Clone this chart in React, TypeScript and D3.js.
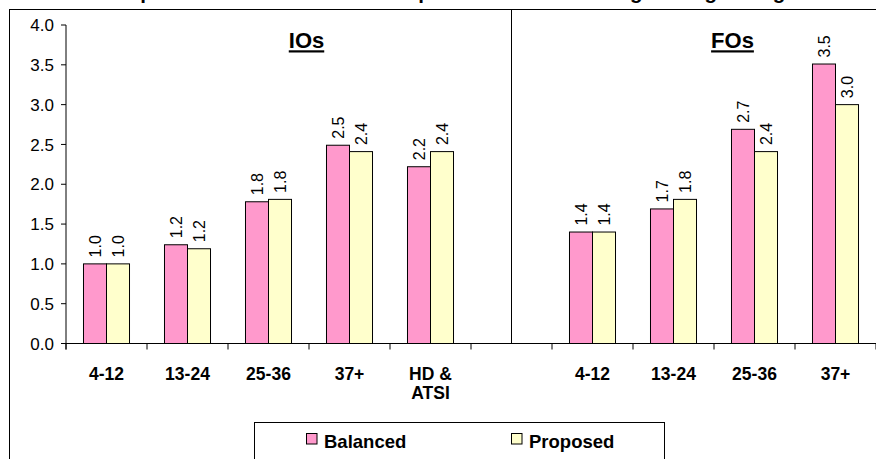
import React from "react";
import * as d3 from "d3";

const categories = ["4-12", "13-24", "25-36", "37+", "HD &\nATSI", "", "4-12", "13-24", "25-36", "37+"];
const balanced: (number | null)[] = [1.0, 1.24, 1.78, 2.49, 2.22, null, 1.4, 1.69, 2.69, 3.51];
const proposed: (number | null)[] = [1.0, 1.19, 1.81, 2.41, 2.41, null, 1.4, 1.81, 2.41, 3.0];
const seriesNames = ["Balanced", "Proposed"];
const seriesColors = ["#FF99CC", "#FFFFCC"];
const yTicks = [0, 0.5, 1.0, 1.5, 2.0, 2.5, 3.0, 3.5, 4.0];
const panelTitles = ["IOs", "FOs"];
const title = "Comparison of Balanced and Proposed Service Loading and Age Ranges";

const W = 876;
const H = 459;
const FONT = "'Liberation Sans', Arial, Helvetica, sans-serif";

export default function App() {
  const x0 = 66;
  const x1End = 876;
  const yBase = 343.5;
  const yTop = 25;
  const x = d3.scaleBand<number>().domain(d3.range(categories.length)).range([x0, x1End]).paddingInner(0).paddingOuter(0);
  const xs = d3.scaleBand<string>().domain(seriesNames).range([0, x.bandwidth()]).paddingInner(0).paddingOuter(0.76);
  const y = d3.scaleLinear().domain([0, 4]).range([yBase, yTop]);
  const series = [balanced, proposed];
  const dividerX = (x(5) as number) + x.bandwidth() / 2;
  const fmt = d3.format(".1f");

  return (
    <svg width={W} height={H} style={{ position: "absolute", left: 0, top: 0, background: "#fff" }} fontFamily={FONT}>
      <rect x={0} y={0} width={W} height={H} fill="#fff" />
      <text x={94.7} y={-1.5} fontSize={20.5} fontWeight="bold" fill="#000">{title}</text>
      {/* outer border */}
      <rect x={9.5} y={9.5} width={900} height={500} fill="none" stroke="#000" strokeWidth={1} />
      {/* divider */}
      <line x1={dividerX} x2={dividerX} y1={9.5} y2={yBase} stroke="#000" strokeWidth={1} />
      {/* y axis */}
      <line x1={x0} x2={x0} y1={yTop} y2={yBase + 6} stroke="#000" strokeWidth={1} />
      {yTicks.map((t) => (
        <g key={t}>
          <line x1={x0 - 5} x2={x0} y1={y(t)} y2={y(t)} stroke="#000" />
          <text x={54} y={y(t)} dy="0.36em" textAnchor="end" fontSize={17} fill="#000">{fmt(t)}</text>
        </g>
      ))}
      {/* x axis */}
      <line x1={x0} x2={x1End} y1={yBase} y2={yBase} stroke="#000" strokeWidth={1} />
      {d3.range(categories.length + 1).map((i) => {
        const xx = i < categories.length ? (x(i) as number) : x1End;
        return <line key={i} x1={xx} x2={xx} y1={yBase} y2={yBase + 6} stroke="#000" />;
      })}
      {/* bars */}
      {series.map((vals, si) =>
        vals.map((v, ci) => {
          if (v == null) return null;
          const bx = (x(ci) as number) + (xs(seriesNames[si]) as number);
          const bw = xs.bandwidth();
          const by = y(v);
          return (
            <g key={`${si}-${ci}`}>
              <rect x={bx} y={by} width={bw} height={yBase - by} fill={seriesColors[si]} stroke="#000" strokeWidth={1} />
              <text
                transform={`translate(${bx + bw / 2},${by - 6.5}) rotate(-90)`}
                dy="0.36em"
                textAnchor="start"
                fontSize={16}
                fill="#000"
              >
                {fmt(v)}
              </text>
            </g>
          );
        })
      )}
      {/* category labels */}
      {categories.map((c, i) => {
        const cx = (x(i) as number) + x.bandwidth() / 2;
        const lines = c.split("\n");
        return (
          <text key={i} x={cx} y={380} textAnchor="middle" fontSize={17.5} fontWeight="bold" fill="#000">
            {lines.map((l, li) => (
              <tspan key={li} x={cx} dy={li === 0 ? 0 : 19}>{l}</tspan>
            ))}
          </text>
        );
      })}
      {/* panel titles */}
      <text x={306.5} y={48.3} textAnchor="middle" fontSize={22} fontWeight="bold" textDecoration="underline" fill="#000">{panelTitles[0]}</text>
      <text x={732.5} y={48.3} textAnchor="middle" fontSize={22} fontWeight="bold" textDecoration="underline" fill="#000">{panelTitles[1]}</text>
      {/* legend */}
      <rect x={254.5} y={422.5} width={410} height={60} fill="#fff" stroke="#000" strokeWidth={1} />
      {seriesNames.map((s, i) => {
        const lx = i === 0 ? 306.5 : 511.5;
        return (
          <g key={s}>
            <rect x={lx} y={433.5} width={10.5} height={10.5} fill={seriesColors[i]} stroke="#000" strokeWidth={1} />
            <text x={lx + 17.5} y={448} fontSize={18.5} fontWeight="bold" fill="#000">{s}</text>
          </g>
        );
      })}
    </svg>
  );
}
